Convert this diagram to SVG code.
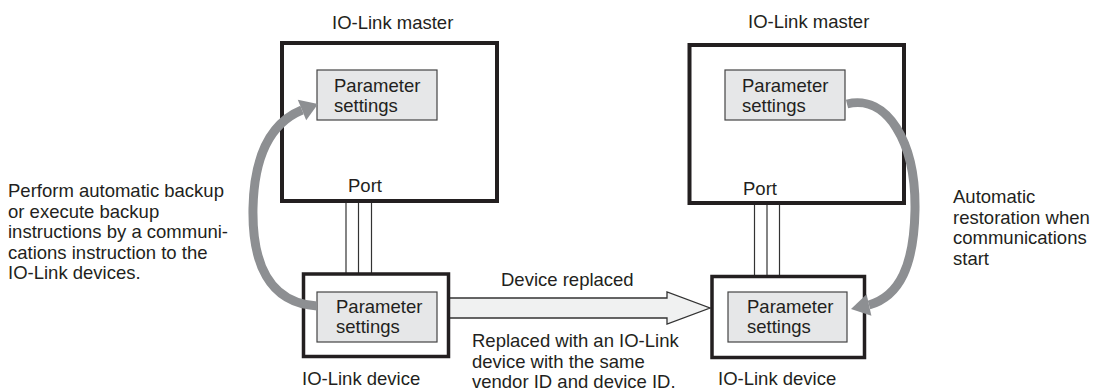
<svg xmlns="http://www.w3.org/2000/svg" width="1095" height="392" viewBox="0 0 1095 392">
<style>
text{font-family:"Liberation Sans",Arial,sans-serif;font-size:18.5px;fill:#231f20}
.master{fill:#fff;stroke:#231f20;stroke-width:4}
.device{fill:#fff;stroke:#231f20;stroke-width:3.5}
.param{fill:#e6e7e8;stroke:#444;stroke-width:1.2}
.wire{stroke:#333;stroke-width:1.2;fill:none}
.curve{stroke:#8d8f92;stroke-width:9;fill:none}
.head{fill:#8d8f92}
.big{fill:#f0f1f1;stroke:#333;stroke-width:1.3}
</style>
<g id="connectors">
<line class="wire" x1="346" y1="199" x2="346" y2="274"/>
<line class="wire" x1="358.5" y1="199" x2="358.5" y2="274"/>
<line class="wire" x1="371.5" y1="199" x2="371.5" y2="274"/>
<line class="wire" x1="754.5" y1="201" x2="754.5" y2="276"/>
<line class="wire" x1="767" y1="201" x2="767" y2="276"/>
<line class="wire" x1="779.5" y1="201" x2="779.5" y2="276"/>
</g>
<g id="master-left">
<rect class="master" x="282" y="43" width="215" height="158"/>
<text x="332" y="29">IO-Link master</text>
<text x="348" y="192">Port</text>
<rect class="param" x="317" y="70" width="120" height="50"/>
<text x="334" y="92">Parameter</text>
<text x="334" y="112">settings</text>
</g>
<g id="master-right">
<rect class="master" x="689.5" y="45" width="214.5" height="158"/>
<text x="748" y="28">IO-Link master</text>
<text x="743" y="195">Port</text>
<rect class="param" x="725" y="70" width="120" height="50"/>
<text x="742" y="92">Parameter</text>
<text x="742" y="112">settings</text>
</g>
<g id="replace-arrow">
<polygon class="big" points="449,298 667,298 667,292 710,308 667,324 667,318 449,318"/>
<text x="501" y="286">Device replaced</text>
<text x="472" y="347">Replaced with an IO-Link</text>
<text x="472" y="367.5">device with the same</text>
<text x="472" y="388">vendor ID and device ID.</text>
</g>
<g id="device-left">
<rect class="device" x="303.5" y="274" width="145" height="82.5"/>
<rect class="param" x="317" y="292" width="120" height="50"/>
<text x="336" y="313">Parameter</text>
<text x="336" y="333">settings</text>
<text x="302" y="385">IO-Link device</text>
</g>
<g id="device-right">
<rect class="device" x="712" y="276.5" width="152.5" height="81"/>
<rect class="param" x="728" y="292" width="119" height="50"/>
<text x="747" y="313">Parameter</text>
<text x="747" y="333">settings</text>
<text x="718" y="385">IO-Link device</text>
</g>
<g id="backup-arrow">
<path class="curve" d="M317,306 C268,303 252,262 253,208 C254,160 268,124 302,110"/>
<polygon class="head" points="318,104 306.2,120.2 297.8,99.8"/>
</g>
<g id="restore-arrow">
<path class="curve" d="M847,104 C887,94 916,142 915,210 C914,265 900,296 869,305"/>
<polygon class="head" points="851,309 871.4,315.7 866.6,294.3"/>
</g>
<g id="label-backup">
<text x="8" y="197">Perform automatic backup</text>
<text x="8" y="217.5">or execute backup</text>
<text x="8" y="238">instructions by a communi-</text>
<text x="8" y="258.5">cations instruction to the</text>
<text x="8" y="279">IO-Link devices.</text>
</g>
<g id="label-restore">
<text x="953" y="203">Automatic</text>
<text x="953" y="223.5">restoration when</text>
<text x="953" y="244">communications</text>
<text x="953" y="264.5">start</text>
</g>
</svg>
